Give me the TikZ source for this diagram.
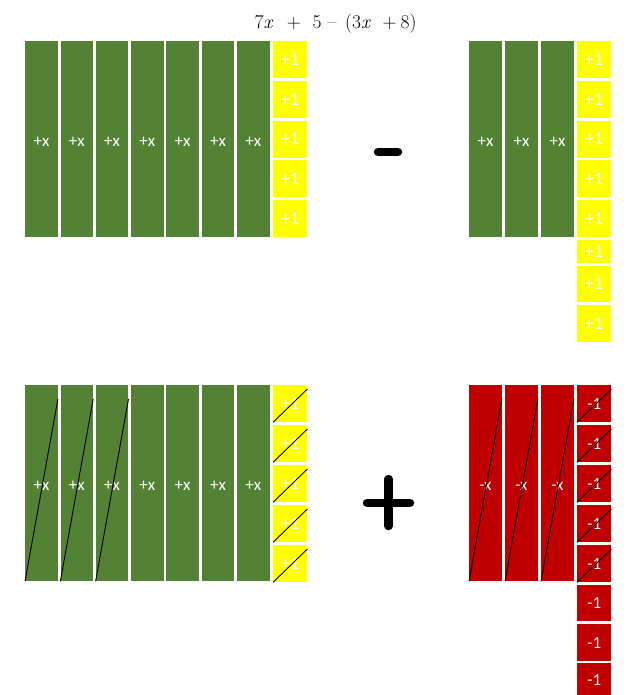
\documentclass[tikz,border=0pt]{standalone}
\usepackage{fontspec}
\newfontfamily\labfont{Carlito}
\definecolor{xgreen}{HTML}{548235}
\definecolor{uyellow}{HTML}{FFFF00}
\definecolor{nred}{HTML}{C00000}
\begin{document}
\begin{tikzpicture}[x=1pt,y=-1pt,
  tile/.style={draw=none, inner sep=0pt, anchor=north west, text=white},
  xbar/.style={tile, fill=xgreen, minimum width=32.5pt, minimum height=196pt,
    text height=15pt, text depth=0pt,
    font=\labfont\fontsize{17}{17}\selectfont},
  nxbar/.style={xbar, fill=nred},
  unit/.style={tile, fill=uyellow, minimum width=34pt, minimum height=37pt,
    font=\labfont\fontsize{18}{18}\selectfont},
  nunit/.style={unit, fill=nred, font=\labfont\fontsize{17}{17}\selectfont},
  slash/.style={draw=black, line width=0.9pt},
  opsign/.style={line width=8.5pt, line cap=round, draw=black}]
\useasboundingbox (0,0) rectangle (634,695);
% title
\node[anchor=base, font=\fontsize{19.5}{19.5}\selectfont] (title) at (335.5,29)
  {7\textit{x}\hspace{0.7em}+\hspace{0.6em}5\hspace{0.3em}–\hspace{0.45em}(3\textit{x}\hspace{0.6em}+\hspace{0.2em}8)};
% top-left: 7 x-bars and 5 units
\foreach \i in {0,...,6} {
  \node[xbar] (tg\i) at ({25+35.3*\i},41) {+x};
}
\foreach \j in {0,...,4} {
  \node[unit] (ty\j) at (273,{41+39.75*\j}) {+1};
}
% minus sign
\draw[opsign] (378,152) -- (398,152);
% top-right: 3 x-bars and 8 units
\foreach \i in {0,1,2} {
  \node[xbar] (rg\i) at ({469+36*\i},41) {+x};
}
\foreach \j in {0,...,4} {
  \node[unit] (ry\j) at (577,{41+39.75*\j}) {+1};
}
\node[unit, minimum height=23pt] (ry5) at (577,240) {+1};
\node[unit, minimum height=36pt] (ry6) at (577,266) {+1};
\node[unit, minimum height=37pt] (ry7) at (577,305) {+1};
% bottom-left
\foreach \i in {0,...,6} {
  \node[xbar] (bg\i) at ({25+35.3*\i},385) {+x};
}
\foreach \j in {0,...,4} {
  \node[unit] (by\j) at (273,{385+40*\j}) {+1};
}
\foreach \i in {0,1,2} {
  \draw[slash] (bg\i.south west) -- ([yshift=-14pt]bg\i.north east);
}
\foreach \j in {0,...,4} {
  \draw[slash] (by\j.south west) -- ([yshift=-4pt]by\j.north east);
}
% plus sign
\draw[opsign] (367,503) -- (410,503);
\draw[opsign] (388.5,479) -- (388.5,526);
% bottom-right
\foreach \i in {0,1,2} {
  \node[nxbar] (bn\i) at ({469+36*\i},385) {-x};
}
\foreach \j in {0,...,4} {
  \node[nunit] (bu\j) at (577,{385+40*\j}) {-1};
}
\node[nunit, minimum height=36pt] (bu5) at (577,585) {-1};
\node[nunit, minimum height=37pt] (bu6) at (577,624) {-1};
\node[nunit, minimum height=33pt] (bu7) at (577,663) {-1};
\foreach \i in {0,1,2} {
  \draw[slash] (bn\i.south west) -- ([yshift=-14pt]bn\i.north east);
}
\foreach \j in {0,...,4} {
  \draw[slash] (bu\j.south west) -- ([yshift=-4pt]bu\j.north east);
}
\end{tikzpicture}
\end{document}
